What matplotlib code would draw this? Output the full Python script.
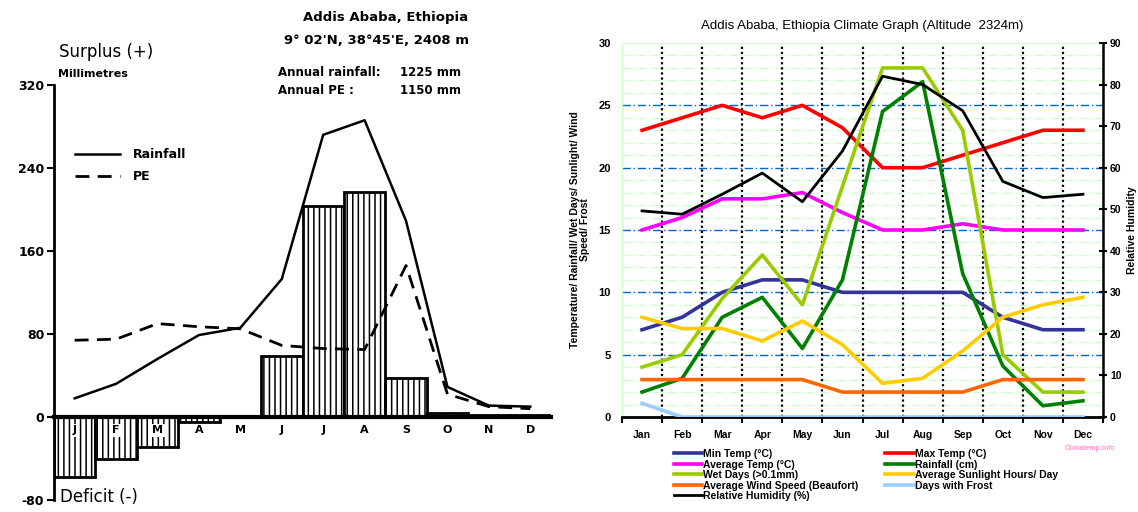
import matplotlib.pyplot as plt
import numpy as np
from matplotlib.lines import Line2D

# left panel: water balance (mm)
months_short = ['J', 'F', 'M', 'A', 'M', 'J', 'J', 'A', 'S', 'O', 'N', 'D']
rainfall_mm = [18, 32, 56, 79, 86, 133, 272, 286, 189, 29, 11, 10]
pe_mm = [74, 75, 90, 87, 85, 69, 66, 65, 146, 22, 10, 8]
balance_mm = [-58, -40, -29, -5, 0, 59, 203, 217, 38, 4, 2, 2]
left_yticks = [-80, 0, 80, 160, 240, 320]

# right panel: climate graph
months = ['Jan', 'Feb', 'Mar', 'Apr', 'May', 'Jun', 'Jul', 'Aug', 'Sep', 'Oct', 'Nov', 'Dec']
min_temp = [7, 8, 10, 11, 11, 10, 10, 10, 10, 8, 7, 7]
max_temp = [23, 24, 25, 24, 25, 23.2, 20, 20, 21, 22, 23, 23]
avg_temp = [15, 16, 17.5, 17.5, 18, 16.4, 15, 15, 15.5, 15, 15, 15]
rain_cm = [2, 3.1, 8, 9.6, 5.5, 11, 24.5, 26.9, 11.5, 4.1, 0.9, 1.3]
wet_days = [4, 5, 9.5, 13, 9, 18.5, 28, 28, 23, 5, 2, 2]
sunlight = [8, 7.1, 7.1, 6.1, 7.7, 5.8, 2.7, 3.1, 5.3, 8, 9, 9.6]
wind = [3, 3, 3, 3, 3, 2, 2, 2, 2, 3, 3, 3]
frost = [1.1, 0, 0, 0, 0, 0, 0, 0, 0, 0, 0, 0]
humidity = [49.6, 48.8, 53.6, 58.7, 51.8, 64, 82, 80, 73.7, 56.7, 52.8, 53.6]

fig = plt.figure(figsize=(11.38, 5.12), dpi=100)
plt.rcParams['hatch.linewidth'] = 1.1

# ---------------- left chart ----------------
ax = fig.add_axes([54 / 1138, 12 / 512, 497 / 1138, 415 / 512])
x = np.arange(12)
ax.bar(x, balance_mm, width=1.0, color='white', edgecolor='black', linewidth=2, hatch='|||', zorder=2)
ax.plot(x, rainfall_mm, color='black', lw=1.8, zorder=3, label='Rainfall')
ax.plot(x, pe_mm, color='black', lw=2, ls=(0, (5, 3)), zorder=3, label='PE')
ax.set_xlim(-0.5, 11.5)
ax.set_ylim(-80, 320)
ax.set_yticks(left_yticks)
ax.set_yticklabels([str(v) for v in left_yticks], fontsize=9, fontweight='bold')
ax.set_xticks([])
# month letters sit just under the zero line, over the deficit bars
for i, m in enumerate(months_short):
    ax.text(i, -13, m, fontsize=8, fontweight='bold', ha='center', va='center', zorder=6,
            bbox=dict(boxstyle='square,pad=0.15', fc='white', ec='none'))
ax.spines['bottom'].set_position(('data', 0))
ax.spines['bottom'].set_linewidth(3)
ax.spines['bottom'].set_zorder(4)
ax.spines['left'].set_linewidth(2)
ax.spines['top'].set_visible(False)
ax.spines['right'].set_visible(False)
ax.tick_params(axis='y', length=5, width=1.5, pad=2)
ax.patch.set_alpha(0)
ax.legend(loc='upper left', bbox_to_anchor=(0.02, 0.875), frameon=False, handlelength=3.6,
          prop={'weight': 'bold', 'size': 9}, labelspacing=0.75, handletextpad=1.0)

fig.text(59 / 1138, 1 - 52 / 512, 'Surplus (+)', fontsize=12, va='center', ha='left')
fig.text(58 / 1138, 1 - 74 / 512, 'Millimetres', fontsize=8, fontweight='bold', va='center')
fig.text(60 / 1138, 1 - 497 / 512, 'Deficit (-)', fontsize=12, va='center', ha='left')
fig.text(386 / 1138, 1 - 17 / 512, 'Addis Ababa, Ethiopia', fontsize=9.5, fontweight='bold', ha='center', va='center')
fig.text(376 / 1138, 1 - 40 / 512, "9\u00b0 02'N, 38\u00b045'E, 2408 m", fontsize=9.5, fontweight='bold', ha='center', va='center')
fig.text(278 / 1138, 1 - 73 / 512, 'Annual rainfall:', fontsize=8.5, fontweight='bold', va='center')
fig.text(278 / 1138, 1 - 91 / 512, 'Annual PE :', fontsize=8.5, fontweight='bold', va='center')
fig.text(400 / 1138, 1 - 73 / 512, '1225 mm', fontsize=8.5, fontweight='bold', va='center')
fig.text(400 / 1138, 1 - 91 / 512, '1150 mm', fontsize=8.5, fontweight='bold', va='center')

# ---------------- right chart ----------------
fam = ['Liberation Sans', 'DejaVu Sans']
ax2 = fig.add_axes([622 / 1138, 95 / 512, 481 / 1138, 374 / 512])
ax2.set_xlim(-0.5, 11.5)
ax2.set_ylim(0, 30)

for v in range(1, 30):
    if v % 5 == 0:
        ax2.axhline(v, color='#0066cc', lw=1, ls=(0, (6, 2, 1, 2)), zorder=1)
    else:
        ax2.axhline(v, color='#ccffcc', lw=1, ls=(0, (6, 2, 1, 2)), zorder=1)
for k in range(11):
    ax2.axvline(k + 0.5, color='black', lw=1.6, ls=(0, (1, 1.3)), zorder=1)

lw = 2.6
ax2.plot(x, min_temp, color='#333399', lw=lw, label='Min Temp (\u00b0C)', zorder=3)
ax2.plot(x, max_temp, color='#ff0000', lw=lw, label='Max Temp (\u00b0C)', zorder=3)
ax2.plot(x, avg_temp, color='#ff00ff', lw=lw, label='Average Temp (\u00b0C)', zorder=3)
ax2.plot(x, rain_cm, color='#008000', lw=lw, label='Rainfall (cm)', zorder=3)
ax2.plot(x, wet_days, color='#99cc00', lw=lw, label='Wet Days (>0.1mm)', zorder=3)
ax2.plot(x, sunlight, color='#ffcc00', lw=lw, label='Average Sunlight Hours/ Day', zorder=3)
ax2.plot(x, wind, color='#ff6600', lw=lw, label='Average Wind Speed (Beaufort)', zorder=3)
ax2.plot(x, frost, color='#99ccff', lw=lw, label='Days with Frost', zorder=3)

ax2.set_xticks(np.arange(-0.5, 12, 1))
ax2.set_xticklabels([])
ax2.set_xticks(x, minor=True)
ax2.set_xticklabels(months, minor=True, fontsize=7.5, fontweight='bold', family=fam)
ax2.tick_params(axis='x', which='major', length=4, width=1.5, direction='out')
ax2.tick_params(axis='x', which='minor', length=0, pad=9)
ax2.set_yticks(range(0, 31, 5))
ax2.set_yticklabels([str(v) for v in range(0, 31, 5)], fontsize=8, fontweight='bold', family=fam)
ax2.tick_params(axis='y', length=0, pad=8)
ax2.spines['left'].set_color('#ccffcc')
ax2.spines['top'].set_color('#ccffcc')
ax2.spines['right'].set_visible(False)
ax2.spines['bottom'].set_linewidth(2)
ax2.set_ylabel('Temperature/ Rainfall/ Wet Days/ Sunlight/ Wind\nSpeed/ Frost', fontsize=7.5,
               fontweight='bold', family=fam, labelpad=6, linespacing=1.0)
ax2.set_title('Addis Ababa, Ethiopia Climate Graph (Altitude  2324m)', fontsize=9.5, family=fam, pad=10)

ax3 = ax2.twinx()
ax3.plot(x, humidity, color='black', lw=2, label='Relative Humidity (%)', zorder=4)
ax3.set_ylim(0, 90)
ax3.set_yticks(range(0, 91, 10))
ax3.set_yticklabels([str(v) for v in range(0, 91, 10)], fontsize=7.5, fontweight='bold', family=fam)
ax3.tick_params(axis='y', length=6, width=1.5, direction='inout', pad=2)
ax3.spines['right'].set_linewidth(1.8)
ax3.spines['left'].set_visible(False)
ax3.spines['top'].set_visible(False)
ax3.spines['bottom'].set_visible(False)
ax3.set_ylabel('Relative Humidity', fontsize=7.5, fontweight='bold', family=fam, rotation=90)
ax3.yaxis.set_label_coords(1.05, 0.5)

h = {l.get_label(): l for l in ax2.get_lines() + ax3.get_lines() if not l.get_label().startswith('_')}
order = ['Min Temp (\u00b0C)', 'Average Temp (\u00b0C)', 'Wet Days (>0.1mm)', 'Average Wind Speed (Beaufort)',
         'Relative Humidity (%)', 'Max Temp (\u00b0C)', 'Rainfall (cm)', 'Average Sunlight Hours/ Day', 'Days with Frost']
handles = [Line2D([], [], color=h[k].get_color(), lw=h[k].get_linewidth()) for k in order]
fig.legend(handles, order, ncol=2, loc='upper left', bbox_to_anchor=(674 / 1138, 1 - 449 / 512),
           frameon=False, prop={'family': fam, 'weight': 'bold', 'size': 7.5}, handlelength=2.7,
           handletextpad=0.1, labelspacing=0.05, columnspacing=2.6, borderpad=0, borderaxespad=0)
fig.text(1090 / 1138, 1 - 449 / 512, 'Climatemp.info', fontsize=5, color='#ff99cc', fontweight='bold',
         family=fam, ha='center', va='center')

fig.savefig('out.png', dpi=100)
